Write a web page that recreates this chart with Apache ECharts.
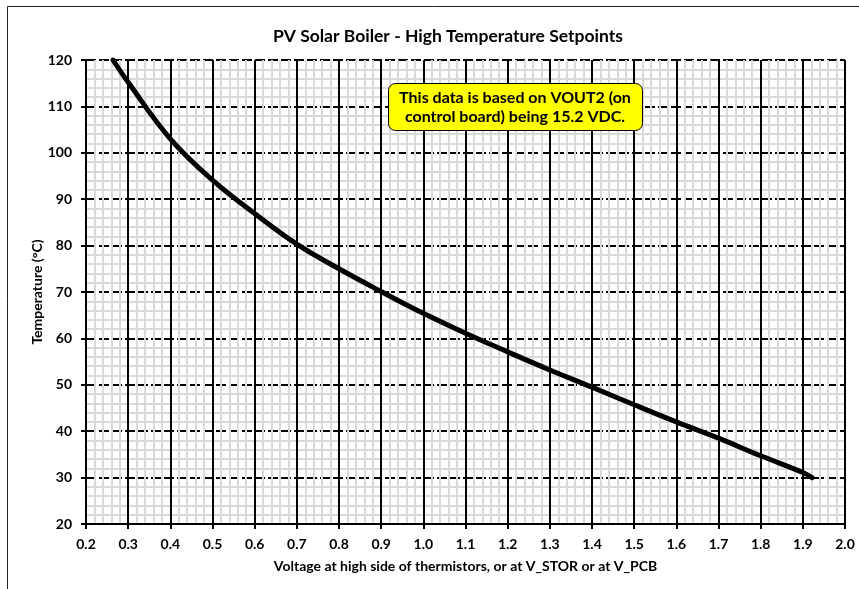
<!DOCTYPE html>
<html>
<head>
<meta charset="utf-8">
<title>PV Solar Boiler - High Temperature Setpoints</title>
<script src="https://cdn.jsdelivr.net/npm/echarts@6/dist/echarts.min.js"></script>
<style>
  html, body { margin: 0; padding: 0; background: #fff; }
  #chart { width: 859px; height: 589px; }
</style>
</head>
<body>
<div id="chart"></div>
<script>
// values
const voltage = [0.264, 0.3, 0.4, 0.5, 0.6, 0.7, 0.8, 0.9, 1.0, 1.1, 1.2, 1.3, 1.4, 1.5, 1.6, 1.7, 1.8, 1.9, 1.922]
const temperature = [120, 115.2, 103.0, 94.1, 86.9, 80.3, 75.0, 70.1, 65.4, 61.1, 57.1, 53.2, 49.5, 45.7, 42.0, 38.5, 34.7, 31.1, 30]

const titleText = 'PV Solar Boiler - High Temperature Setpoints'
const xName = 'Voltage at high side of thermistors, or at V_STOR or at V_PCB'
const yName = 'Temperature (°C)'
const noteLines = ['This data is based on VOUT2 (on', 'control board) being 15.2 VDC.']

const FONT = 'Lato, "Open Sans", sans-serif'

const chart = echarts.init(document.getElementById('chart'), null, { renderer: 'canvas' })

const minorLine = { show: true, lineStyle: { color: '#d9d9d9', width: 2 } }
const labelFont = { fontFamily: FONT, fontWeight: 'bold', fontSize: 14, color: '#000' }

chart.setOption({
  animation: false,
  title: {
    text: titleText,
    left: 443,
    top: 22,
    textAlign: 'center',
    textStyle: { fontFamily: FONT, fontWeight: 'bold', fontSize: 17.5, color: '#000' }
  },
  grid: { left: 86, right: 14, top: 60, bottom: 65, containLabel: false },
  xAxis: {
    type: 'value',
    min: 0.2,
    max: 2.0,
    interval: 0.1,
    name: xName,
    nameLocation: 'middle',
    nameGap: 35,
    nameMoveOverlap: false,
    nameTextStyle: labelFont,
    axisLine: { show: true, onZero: false, lineStyle: { color: '#000', width: 2 } },
    axisTick: { show: true, length: 5, lineStyle: { color: '#000', width: 2 } },
    axisLabel: Object.assign({ margin: 13, formatter: (v) => v.toFixed(1) }, labelFont),
    splitLine: { show: true, lineStyle: { color: '#000', width: 2 } },
    minorTick: { show: false, splitNumber: 5 },
    minorSplitLine: minorLine
  },
  yAxis: {
    type: 'value',
    min: 20,
    max: 120,
    interval: 10,
    name: yName,
    nameLocation: 'middle',
    nameGap: 42,
    nameMoveOverlap: false,
    nameTextStyle: labelFont,
    axisLine: { show: true, lineStyle: { color: '#000', width: 2 } },
    axisTick: { show: true, length: 5, lineStyle: { color: '#000', width: 2 } },
    axisLabel: Object.assign({ margin: 14 }, labelFont),
    splitLine: { show: true, lineStyle: { color: '#000', width: 2, type: [10, 3] } },
    minorTick: { show: false, splitNumber: 5 },
    minorSplitLine: minorLine
  },
  series: [
    {
      type: 'line',
      data: voltage.map((v, i) => [v, temperature[i]]),
      smooth: 0.4,
      symbol: 'none',
      lineStyle: { color: '#000', width: 5, cap: 'round' },
      z: 5
    }
  ],
  graphic: [
    // outer frame of the chart area
    {
      type: 'rect',
      shape: { x: 7.5, y: 6.5, width: 880, height: 620 },
      style: { fill: 'none', stroke: '#222', lineWidth: 1 },
      silent: true
    },
    // yellow note box
    {
      type: 'rect',
      z: 100,
      shape: { x: 388.5, y: 83.5, width: 254, height: 47, r: 7 },
      style: { fill: '#ffff00', stroke: '#000', lineWidth: 1 }
    },
    {
      type: 'text',
      z: 101,
      x: 515,
      y: 107,
      style: {
        text: noteLines.join('\n'),
        align: 'center',
        verticalAlign: 'middle',
        lineHeight: 19,
        fill: '#000',
        font: 'bold 16px ' + FONT
      }
    }
  ]
})
</script>
</body>
</html>
